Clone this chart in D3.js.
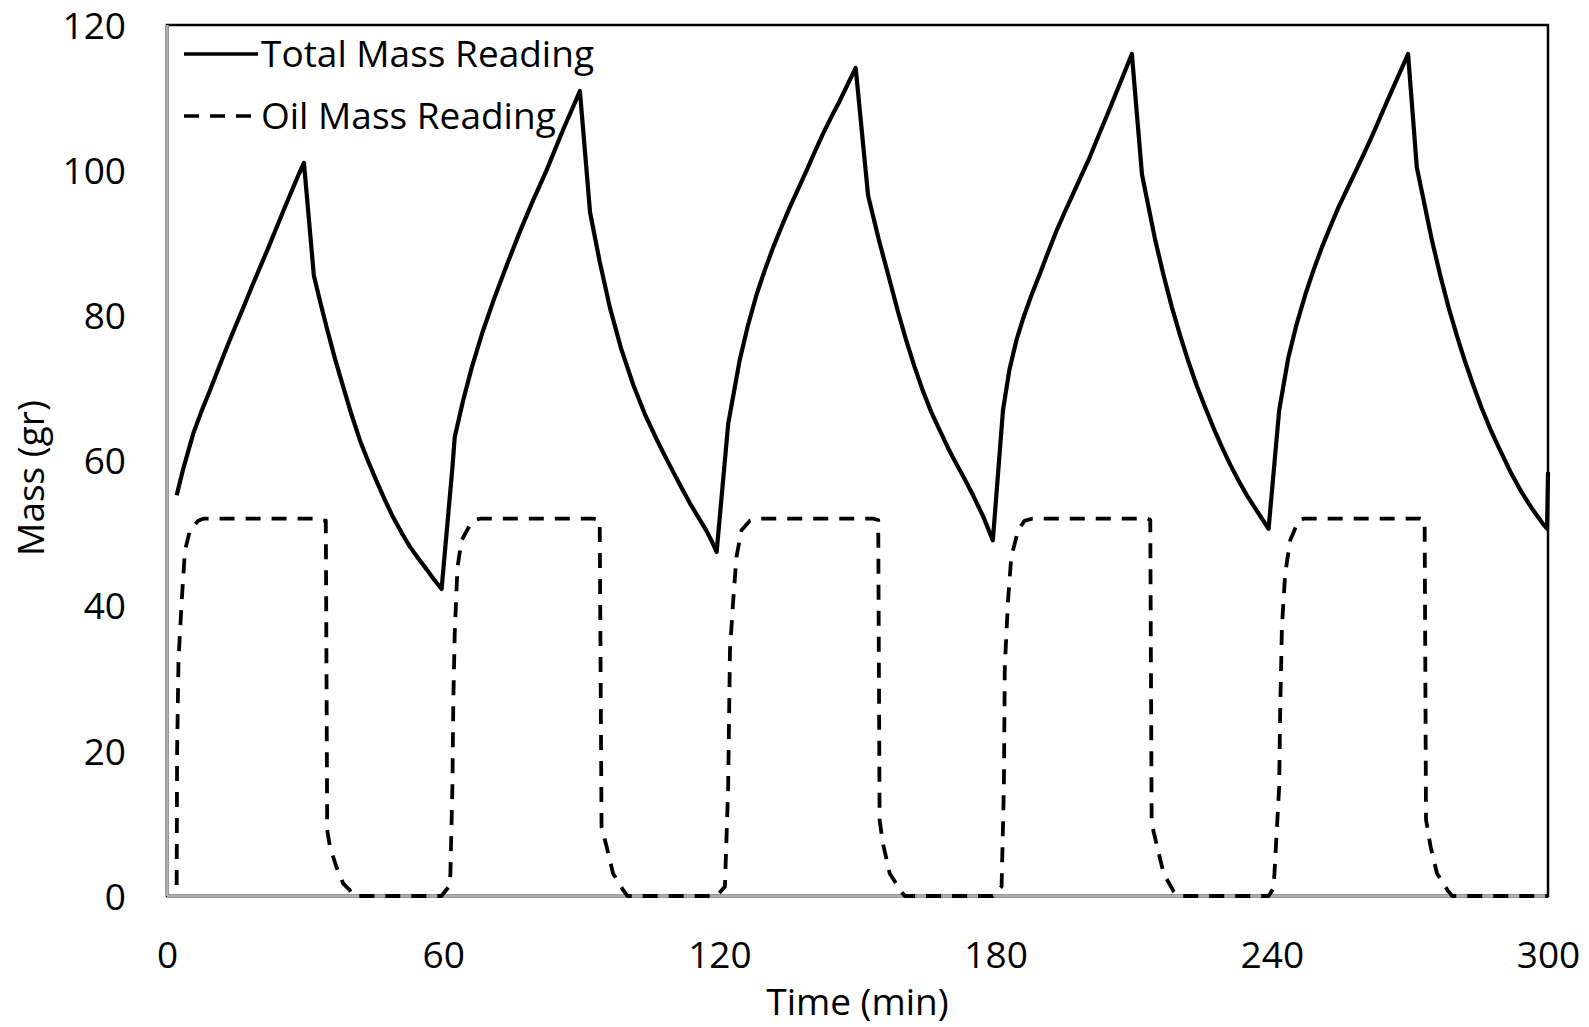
<!DOCTYPE html>
<html>
<head>
<meta charset="utf-8">
<script src="https://cdn.jsdelivr.net/npm/d3@7"></script>
<style>
  body { margin: 0; background: #fff; }
  svg { display: block; }
  text { font-family: "Open Sans", sans-serif; fill: #000; }
</style>
</head>
<body>
<svg id="chart" width="1589" height="1027"></svg>
<script>
// Total mass reading (gr) over time (min)
const totalTime = [
  2.1, 3.5, 5.7, 7.5, 9.3, 11.2, 13.0, 14.8, 16.6, 18.4, 20.2, 22.0, 23.8, 25.6, 27.4, 28.6, 29.75,
  31.9, 33.3, 34.7, 36.5, 38.3, 40.1, 41.9, 43.7, 45.5, 47.3, 49.1, 51.0, 52.8, 54.6, 56.4, 58.0, 59.65,
  62.0, 62.5, 64.3, 66.2, 68.5, 70.9, 73.8, 76.7, 79.5, 82.4, 86.0, 89.7,
  91.9, 94.0, 96.2, 98.7, 101.3, 103.8, 106.3, 108.1, 109.9, 111.8, 113.6, 115.4, 117.2, 118.4, 119.4,
  121.9, 124.4, 126.2, 128.1, 129.9, 131.7, 133.5, 135.3, 137.1, 138.9, 140.7, 142.5, 144.3, 146.1, 149.6,
  152.3, 154.6, 157.0, 158.8, 160.6, 162.4, 164.2, 166.0, 167.9, 169.7, 171.5, 173.3, 175.1, 177.3, 179.4,
  181.6, 183.0, 184.5, 186.0, 187.8, 189.6, 191.4, 193.2, 195.0, 196.8, 198.6, 200.4, 202.2, 204.1, 205.9, 207.7, 209.6,
  211.8, 214.7, 216.5, 218.3, 220.1, 221.9, 223.7, 225.6, 227.4, 229.2, 231.0, 232.8, 234.6, 236.4, 239.3,
  241.6, 243.6, 245.4, 247.3, 249.1, 250.9, 252.7, 254.5, 256.3, 258.1, 259.9, 261.7, 263.5, 265.4, 269.6,
  271.5, 274.8, 276.6, 278.4, 280.2, 282.0, 283.8, 285.6, 287.5, 289.3, 291.8, 294.3, 296.7, 299.0, 299.8, 300
];
const totalMass = [
  55.2, 58.8, 63.7, 66.8, 69.6, 72.7, 75.6, 78.4, 81.1, 83.9, 86.6, 89.3, 92.1, 94.9, 97.6, 99.4, 101.0,
  85.5, 81.8, 78.3, 74.0, 70.1, 66.3, 62.8, 59.9, 57.2, 54.6, 52.2, 50.0, 48.1, 46.5, 45.0, 43.6, 42.3,
  59.0, 63.2, 68.2, 72.8, 77.6, 82.0, 86.9, 91.6, 95.8, 99.9, 105.5, 110.9,
  94.2, 87.4, 81.1, 75.3, 70.4, 66.4, 63.0, 60.7, 58.5, 56.2, 54.1, 52.2, 50.3, 48.8, 47.4,
  65.0, 73.8, 78.6, 82.9, 86.3, 89.4, 92.2, 94.9, 97.4, 99.9, 102.5, 105.0, 107.3, 109.5, 114.1,
  96.5, 90.5, 84.8, 80.5, 76.5, 72.9, 69.6, 66.7, 64.1, 61.7, 59.5, 57.4, 55.2, 52.3, 49.0,
  66.9, 72.5, 76.5, 79.6, 82.8, 85.7, 88.7, 91.6, 94.2, 96.7, 99.2, 101.7, 104.5, 107.4, 110.2, 113.0, 116.0,
  99.4, 90.3, 85.5, 81.1, 77.2, 73.6, 70.3, 67.2, 64.4, 61.8, 59.4, 57.2, 55.2, 53.4, 50.6,
  66.9, 74.2, 78.8, 82.9, 86.3, 89.4, 92.2, 94.9, 97.3, 99.7, 102.1, 104.6, 107.2, 110.0, 116.0,
  100.4, 90.3, 85.5, 81.1, 77.2, 73.6, 70.3, 67.2, 64.3, 61.8, 58.5, 55.6, 53.2, 51.2, 50.6, 58.4
];

// Oil mass reading (gr) over time (min)
const oilTime = [
  2.1, 2.2, 2.5, 3.2, 3.9, 5.0, 6.8, 8.0, 32.5, 33.3, 34.5, 34.8, 35.4, 36.8, 38.3, 39.7, 40.5,
  59.6, 61.5, 62.0, 62.2, 62.5, 63.1, 64.0, 65.8, 66.5, 68.0, 92.6, 94.0, 94.4, 95.5, 96.9, 99.1, 100.0,
  119.4, 121.2, 121.9, 122.3, 123.0, 123.7, 124.8, 126.6, 128.0, 153.4, 154.5, 154.8, 155.5, 157.0, 159.5, 160.3,
  179.4, 181.3, 181.8, 182.0, 182.7, 183.4, 184.9, 186.3, 188.0, 212.9, 213.6, 213.9, 215.1, 216.5, 218.7, 219.5,
  239.3, 240.4, 241.6, 241.8, 242.2, 242.9, 244.0, 245.8, 247.0, 272.2, 273.2, 273.5, 274.5, 275.9, 278.4, 279.2,
  300
];
const oilMass = [
  1.5, 20.0, 32.5, 40.7, 47.6, 50.4, 51.7, 52.0, 52.0, 51.8, 51.7, 9.1, 6.8, 4.0, 1.7, 0.8, 0,
  0, 1.5, 15.0, 27.0, 36.1, 45.3, 49.0, 51.1, 51.7, 52.0, 52.0, 51.8, 9.5, 6.8, 3.1, 0.8, 0,
  0, 1.3, 15.0, 33.9, 40.7, 46.7, 50.4, 51.7, 52.0, 52.0, 51.8, 10.5, 7.3, 3.1, 0.6, 0,
  0, 1.3, 15.0, 31.6, 40.7, 46.7, 50.4, 51.7, 52.0, 52.0, 51.8, 10.0, 6.8, 3.1, 0.6, 0,
  0, 1.1, 15.0, 24.7, 37.1, 44.4, 49.0, 51.7, 52.0, 52.0, 51.8, 10.5, 6.8, 3.1, 0.6, 0,
  0
];

const xTicks = [0, 60, 120, 180, 240, 300];
const yTicks = [0, 20, 40, 60, 80, 100, 120];
const seriesNames = ["Total Mass Reading", "Oil Mass Reading"];
const xTitle = "Time (min)";
const yTitle = "Mass (gr)";

// Layout
const plot = { left: 167, right: 1548, top: 25, bottom: 896 };
const fontSize = 37;

const svg = d3.select("#chart");

const x = d3.scaleLinear().domain([0, 300]).range([plot.left, plot.right]);
const y = d3.scaleLinear().domain([0, 120]).range([plot.bottom, plot.top]);

// Plot area frame
svg.append("rect")
  .attr("x", plot.left).attr("y", plot.top)
  .attr("width", plot.right - plot.left).attr("height", plot.bottom - plot.top)
  .attr("fill", "none").attr("stroke", "#000").attr("stroke-width", 2.5);

// Axes (labels only, no tick marks)
const yAxis = svg.append("g")
  .attr("transform", `translate(${plot.left},0)`)
  .call(d3.axisLeft(y).tickValues(yTicks).tickSize(0).tickPadding(41).tickFormat(d3.format("d")));
yAxis.select(".domain").remove();
yAxis.selectAll("text").attr("font-size", fontSize).attr("dy", "0.36em")
  .style("font-family", '"Open Sans", sans-serif').attr("fill", "#000");

const xAxis = svg.append("g")
  .attr("transform", `translate(0,${plot.bottom})`)
  .call(d3.axisBottom(x).tickValues(xTicks).tickSize(0).tickPadding(46).tickFormat(d3.format("d")));
xAxis.select(".domain").remove();
xAxis.selectAll("text").attr("font-size", fontSize).attr("dy", "0.71em")
  .style("font-family", '"Open Sans", sans-serif').attr("fill", "#000");

// Grey axis lines along the left and bottom edges
const axisLines = svg.append("g");
[["#8a8a8a", 3.5], ["#d4d4d4", 1]].forEach(([c, w]) => {
  axisLines.append("line")
    .attr("x1", plot.left).attr("x2", plot.left).attr("y1", plot.top).attr("y2", plot.bottom)
    .attr("stroke", c).attr("stroke-width", w);
  axisLines.append("line")
    .attr("x1", plot.left).attr("x2", plot.right).attr("y1", plot.bottom).attr("y2", plot.bottom)
    .attr("stroke", c).attr("stroke-width", w);
});

// Series
const totalData = totalTime.map((t, i) => [t, totalMass[i]]);
const oilData = oilTime.map((t, i) => [t, oilMass[i]]);
const line = d3.line().x(d => x(d[0])).y(d => y(d[1])).curve(d3.curveLinear);

const dash = "15,11";

svg.append("path").datum(oilData)
  .attr("d", line)
  .attr("fill", "none").attr("stroke", "#000").attr("stroke-width", 3.8)
  .attr("stroke-dasharray", dash).attr("stroke-linejoin", "round");

svg.append("path").datum(totalData)
  .attr("d", line)
  .attr("fill", "none").attr("stroke", "#000").attr("stroke-width", 4.2)
  .attr("stroke-linejoin", "round");

// Legend
const legend = svg.append("g");
const legendRows = [
  { name: seriesNames[0], y: 54, dash: null },
  { name: seriesNames[1], y: 116, dash: dash }
];
legendRows.forEach(r => {
  legend.append("line")
    .attr("x1", 184).attr("x2", 258).attr("y1", r.y).attr("y2", r.y)
    .attr("stroke", "#000").attr("stroke-width", 3.5)
    .attr("stroke-dasharray", r.dash);
  legend.append("text")
    .attr("x", 261).attr("y", r.y + 13)
    .attr("font-size", fontSize)
    .text(r.name);
});

// Axis titles
svg.append("text")
  .attr("x", (plot.left + plot.right) / 2).attr("y", 1015)
  .attr("text-anchor", "middle").attr("font-size", fontSize)
  .text(xTitle);

svg.append("text")
  .attr("transform", `translate(44,478) rotate(-90)`)
  .attr("text-anchor", "middle").attr("font-size", fontSize)
  .text(yTitle);
</script>
</body>
</html>
